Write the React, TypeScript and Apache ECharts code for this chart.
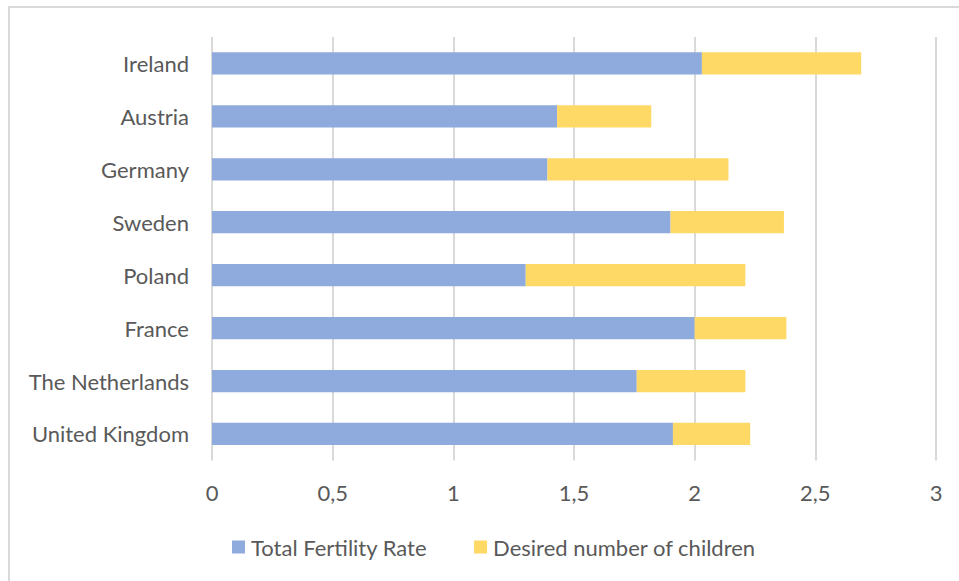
import React, { useEffect, useRef } from "react";
import * as echarts from "echarts";

const countries = [
  "Ireland",
  "Austria",
  "Germany",
  "Sweden",
  "Poland",
  "France",
  "The Netherlands",
  "United Kingdom",
];
const totalFertilityRate = [2.03, 1.43, 1.39, 1.9, 1.3, 2.0, 1.76, 1.91];
const desiredExtra = [0.66, 0.39, 0.75, 0.47, 0.91, 0.38, 0.45, 0.32];
const seriesNames = ["Total Fertility Rate", "Desired number of children"];
const xTicks = { min: 0, max: 3, interval: 0.5 };

const FONT = "Lato";
const TEXT = "#595959";

export default function App() {
  const ref = useRef<HTMLDivElement>(null);
  useEffect(() => {
    if (!ref.current) return;
    const chart = echarts.init(ref.current, null, { renderer: "svg" });
    chart.setOption({
      animation: false,
      backgroundColor: "#ffffff",
      textStyle: { fontFamily: FONT, color: TEXT },
      graphic: [
        {
          type: "rect",
          shape: { x: 9, y: 7, width: 980, height: 600 },
          style: { fill: "none", stroke: "#d9d9d9", lineWidth: 2 },
          silent: true,
        },
      ],
      grid: { left: 212, right: 23, top: 37, bottom: 120.6, containLabel: false },
      legend: {
        left: 232,
        top: 536,
        padding: 0,
        itemWidth: 13,
        itemHeight: 13,
        itemGap: 47,
        icon: "rect",
        textStyle: { fontFamily: FONT, fontSize: 22, color: TEXT, padding: [0, 0, 0, 1] },
        data: seriesNames,
      },
      xAxis: {
        type: "value",
        min: xTicks.min,
        max: xTicks.max,
        interval: xTicks.interval,
        axisLine: { show: false },
        axisTick: { show: false },
        splitLine: { show: true, lineStyle: { color: "#d9d9d9", width: 2 } },
        axisLabel: {
          margin: 21,
          fontFamily: FONT,
          fontSize: 22,
          color: TEXT,
          formatter: (v: number) => String(v).replace(".", ","),
        },
      },
      yAxis: {
        type: "category",
        inverse: true,
        data: countries,
        axisLine: { show: false },
        axisTick: { show: false },
        splitLine: { show: false },
        axisLabel: {
          margin: 23,
          fontFamily: FONT,
          fontSize: 22,
          color: TEXT,
          padding: [0, 0, 4, 0],
        },
      },
      series: [
        {
          name: seriesNames[0],
          type: "bar",
          stack: "total",
          data: totalFertilityRate,
          barCategoryGap: "58%",
          itemStyle: { color: "#8faadc" },
        },
        {
          name: seriesNames[1],
          type: "bar",
          stack: "total",
          data: desiredExtra,
          barCategoryGap: "58%",
          itemStyle: { color: "#ffd966" },
        },
      ],
    });
    return () => chart.dispose();
  }, []);
  return (
    <div
      ref={ref}
      style={{ position: "absolute", left: 0, top: 0, width: 959, height: 581 }}
    />
  );
}
